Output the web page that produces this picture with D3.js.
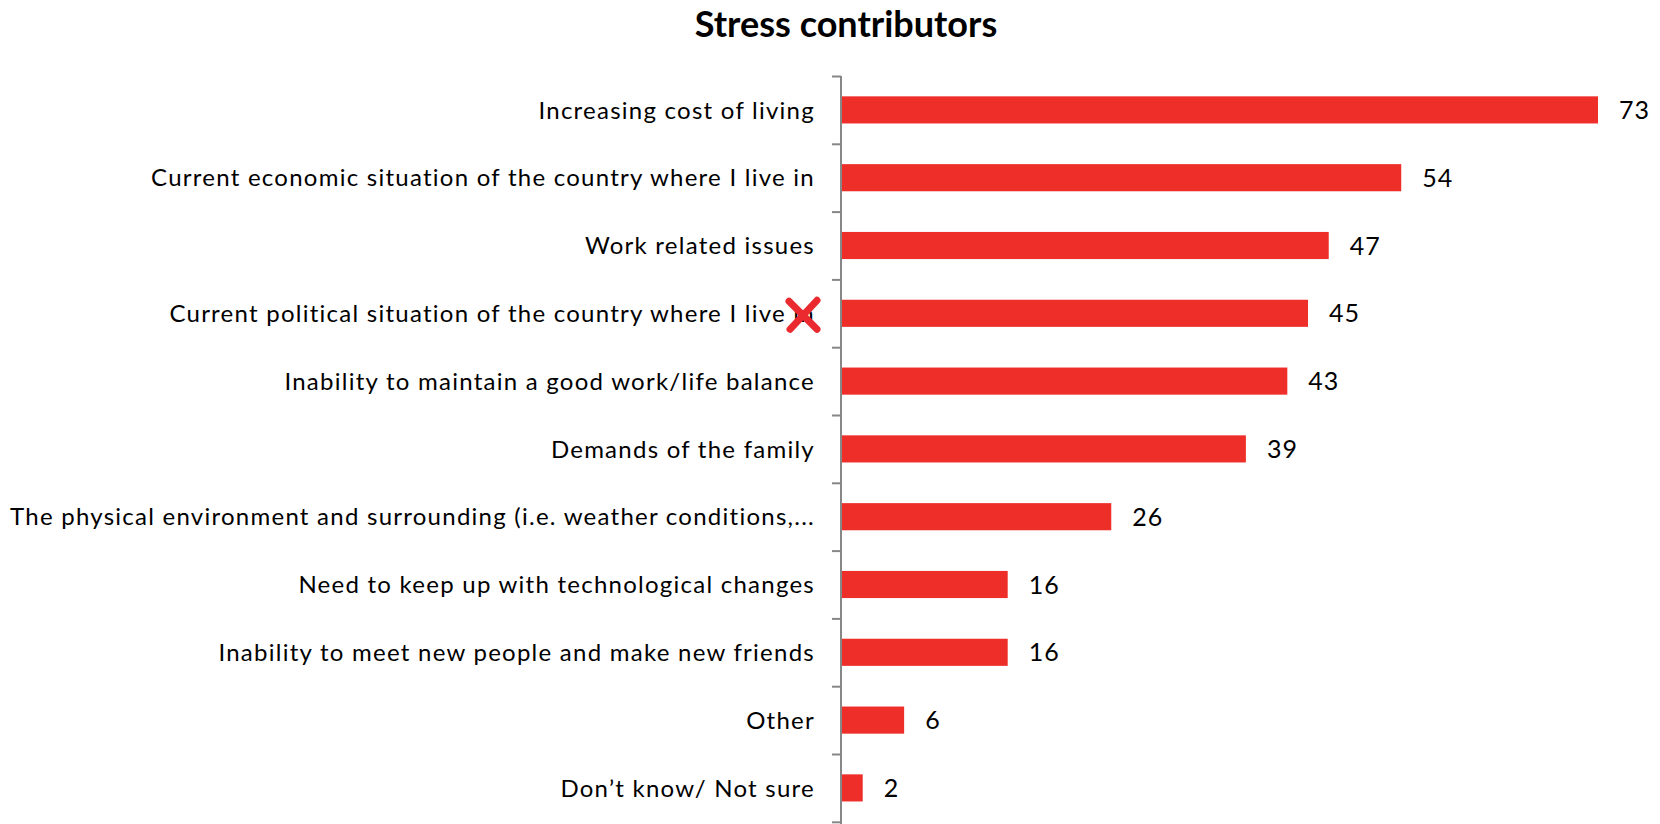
<!DOCTYPE html>
<head>
    <meta charset="utf-8">
    <script src="https://d3js.org/d3.v7.min.js"></script>
    <style>
      body { margin: 0; background: #fff; }
      text { font-family: Lato, "Open Sans", sans-serif; fill: #000; }
    </style>
</head>

<body>
<div id="chart"></div>

<script>
  var title = "Stress contributors";
  var categories = [
    "Increasing cost of living",
    "Current economic situation of the country where I live in",
    "Work related issues",
    "Current political situation of the country where I live in",
    "Inability to maintain a good work/life balance",
    "Demands of the family",
    "The physical environment and surrounding (i.e. weather conditions,...",
    "Need to keep up with technological changes",
    "Inability to meet new people and make new friends",
    "Other",
    "Don\u2019t know/ Not sure"
  ];
  var values = [73, 54, 47, 45, 43, 39, 26, 16, 16, 6, 2];
  // the crossed-out row in the picture
  var markedRow = 3;

  var width = 1660;
  var height = 824;
  var margin = {top: 76, right: 60, bottom: 2, left: 842};

  var svg = d3.select("#chart").append("svg")
      .attr("width", width)
      .attr("height", height);

  var x = d3.scaleLinear()
      .domain([0, 73])
      .range([margin.left, 1598]);

  var y = d3.scaleBand()
      .domain(categories)
      .range([margin.top, margin.top + 67.8 * categories.length])
      .paddingInner(0.6)
      .paddingOuter(0.3);

  // title
  svg.append("text")
      .attr("x", 846)
      .attr("y", 37)
      .attr("text-anchor", "middle")
      .style("font-size", "36px")
      .style("font-weight", "bold")
      .text(title);

  // bars
  svg.selectAll(".bar")
      .data(values)
      .enter()
      .append("rect")
      .attr("class", "bar")
      .attr("x", x(0))
      .attr("y", function(d, i) { return y(categories[i]); })
      .attr("width", function(d) { return x(d) - x(0); })
      .attr("height", y.bandwidth())
      .style("fill", "#ee2e29");

  // value labels
  svg.selectAll(".value")
      .data(values)
      .enter()
      .append("text")
      .attr("class", "value")
      .attr("x", function(d) { return x(d) + 21; })
      .attr("y", function(d, i) { return y(categories[i]) + y.bandwidth() / 2; })
      .attr("dy", "0.36em")
      .style("font-size", "25px")
      .style("letter-spacing", "1px")
      .text(function(d) { return d; });

  // category axis
  var yAxis = d3.axisLeft(d3.scaleOrdinal()
        .domain(d3.range(categories.length + 1))
        .range(d3.range(categories.length + 1).map(function(i) { return margin.top + 67.8 * i; })))
      .tickSize(9)
      .tickFormat("");

  var axisG = svg.append("g")
      .attr("transform", "translate(" + (margin.left - 1) + ",0)")
      .call(yAxis);
  axisG.select(".domain").remove();
  axisG.selectAll("line").attr("stroke", "#878787").attr("stroke-width", 2);
  axisG.append("line")
      .attr("y1", margin.top)
      .attr("y2", height)
      .attr("stroke", "#878787")
      .attr("stroke-width", 2);

  svg.selectAll(".label")
      .data(categories)
      .enter()
      .append("text")
      .attr("class", "label")
      .attr("x", 815)
      .attr("y", function(d) { return y(d) + y.bandwidth() / 2; })
      .attr("dy", "0.36em")
      .attr("text-anchor", "end")
      .style("font-size", "24px")
      .style("letter-spacing", "1.25px")
      .text(function(d) { return d; });

  // red cross drawn over the marked row
  var cy = y(categories[markedRow]) + y.bandwidth() / 2;
  var cross = svg.append("g")
      .attr("transform", "translate(803," + (cy + 2) + ")");
  cross.append("line")
      .attr("x1", -14).attr("y1", -14).attr("x2", 14).attr("y2", 14);
  cross.append("line")
      .attr("x1", 14).attr("y1", -15).attr("x2", -13).attr("y2", 14);
  cross.selectAll("line")
      .attr("stroke", "#ea2a2e")
      .attr("stroke-width", 7)
      .attr("stroke-linecap", "round");
</script>
</body>
</html>
